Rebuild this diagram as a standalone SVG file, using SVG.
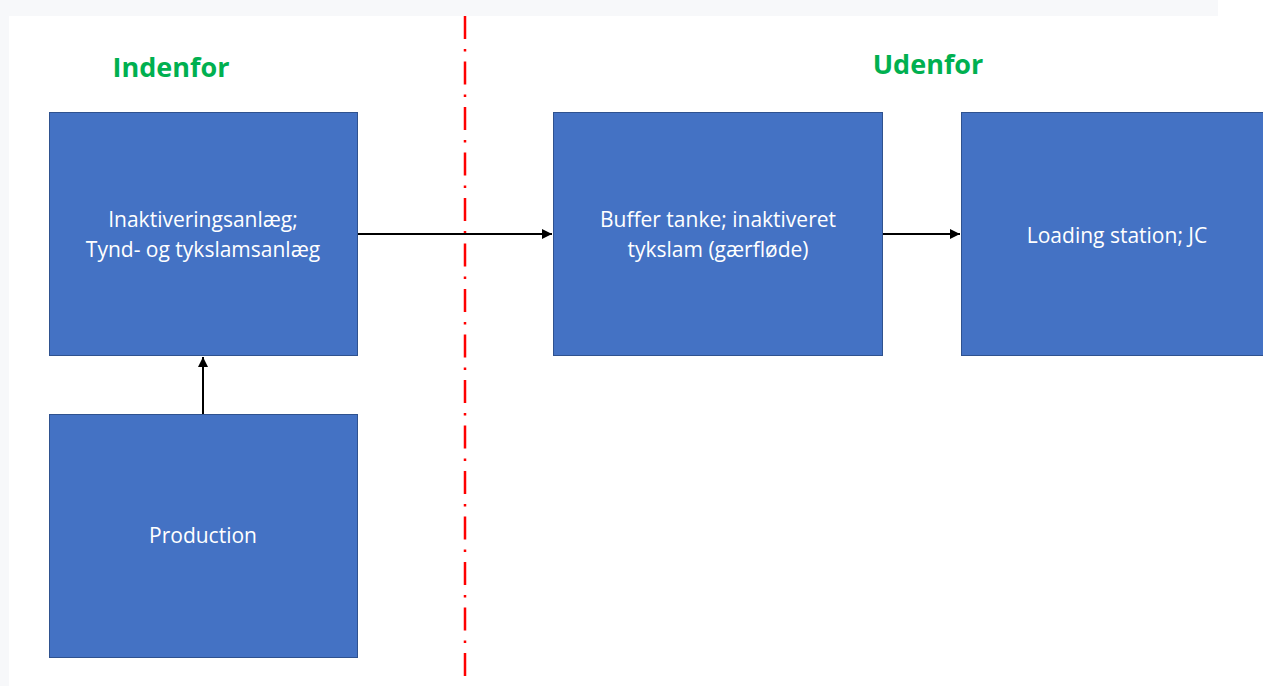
<svg xmlns="http://www.w3.org/2000/svg" width="1263" height="686" viewBox="0 0 1263 686">
<defs>
<style>
.box{fill:#4472c4;stroke:#2f528f;stroke-width:1}
.lbl{fill:#ffffff;font-family:"Open Sans","Liberation Sans",sans-serif;font-size:21px;text-anchor:middle}
.ttl{fill:#00b050;font-family:"Open Sans","Liberation Sans",sans-serif;font-size:27px;font-weight:bold;text-anchor:middle}
.con{stroke:#000;stroke-width:2;fill:none;marker-end:url(#ah)}
</style>
<marker id="ah" viewBox="0 0 10 10" refX="10" refY="5" markerWidth="5" markerHeight="5" orient="auto" markerUnits="strokeWidth">
<path d="M0,0 L10,5 L0,10 z" fill="#000"/>
</marker>
</defs>
<rect x="0" y="0" width="1263" height="686" fill="#f7f8fa"/>
<rect x="9" y="16" width="1254" height="670" fill="#ffffff"/>
<rect x="1218" y="0" width="45" height="16" fill="#ffffff"/>
<line x1="465" y1="16" x2="465" y2="686" stroke="#ff0000" stroke-width="2.5" stroke-dasharray="23 10 2.5 10" stroke-dashoffset="0"/>
<text class="ttl" x="171" y="77">Indenfor</text>
<text class="ttl" x="928" y="74">Udenfor</text>
<g id="connectors">
<line class="con" x1="358" y1="234" x2="552" y2="234"/>
<line class="con" x1="883" y1="234" x2="960" y2="234"/>
<line class="con" x1="203" y1="414" x2="203" y2="357"/>
</g>
<g id="node-inaktivering">
<rect class="box" x="49.5" y="112.5" width="308" height="243"/>
<text class="lbl" x="203" y="227">Inaktiveringsanlæg;</text>
<text class="lbl" x="203" y="257">Tynd- og tykslamsanlæg</text>
</g>
<g id="node-production">
<rect class="box" x="49.5" y="414.5" width="308" height="243"/>
<text class="lbl" x="203" y="543">Production</text>
</g>
<g id="node-buffer">
<rect class="box" x="553.5" y="112.5" width="329" height="243"/>
<text class="lbl" x="718" y="227">Buffer tanke; inaktiveret</text>
<text class="lbl" x="718" y="257">tykslam (gærfløde)</text>
</g>
<g id="node-loading">
<rect class="box" x="961.5" y="112.5" width="312" height="243"/>
<text class="lbl" x="1117" y="243">Loading station; JC</text>
</g>
</svg>
